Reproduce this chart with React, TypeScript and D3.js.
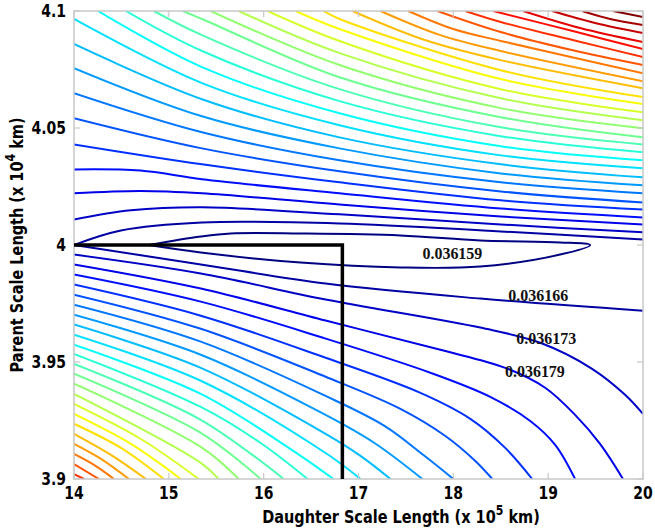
import React from 'react';
import * as d3 from 'd3';

// ---------- data ----------
const X_TICKS = [14, 15, 16, 17, 18, 19, 20];
const Y_TICKS = [3.9, 3.95, 4, 4.05, 4.1];
const Y_TICK_LABELS = ['3.9', '3.95', '4', '4.05', '4.1'];
const LEVEL_COUNT = 30; // contour levels 0..29

type Pt = [number, number];
type Line = [number, Pt[]];

// closed lowest-level contour (0.036159)
const LOOP_LINE: Line = [0, [
  [14.789, 4.0], [15.337, 4.0036], [15.653, 4.0049], [16.389, 4.0049], [17.442, 4.0041],
  [18.284, 4.0019], [19.126, 4.0011], [19.442, 4.0],
  [19.126, 3.9959], [18.284, 3.9908], [17.442, 3.9904], [16.389, 3.9925], [15.337, 3.9968], [14.789, 4.0],
]];

// contours above y = 4.0 (level index, points)
const UPPER_LINES: Line[] = [
  [1, [[14, 4.0], [14.495, 4.0062], [15.35, 4.0096], [16.8, 4.0092], [18.5, 4.0058], [20, 4.0024]]],
  [2, [[14, 4.0109], [14.6, 4.0148], [15.35, 4.0161], [16.8, 4.0131], [18.5, 4.0088], [20, 4.0054]]],
  [3, [[14, 4.0221], [14.7, 4.0231], [15.35, 4.0221], [16.8, 4.0173], [18.5, 4.0122], [20, 4.0088]]],
  [4, [[14, 4.0323], [14.7, 4.0318], [15.35, 4.0281], [16.8, 4.0221], [18.5, 4.0156], [20, 4.0118]]],
  [5, [[14, 4.043], [15.35, 4.0345], [16.8, 4.0268], [18.5, 4.0191], [20, 4.0152]]],
  [6, [[14, 4.0542], [15.35, 4.0413], [16.8, 4.0315], [18.5, 4.0229], [20, 4.0182]]],
  [7, [[14, 4.0649], [15.35, 4.0482], [16.8, 4.0362], [18.5, 4.0268], [20, 4.0221]]],
  [8, [[14, 4.0756], [15.35, 4.055], [16.8, 4.0413], [18.5, 4.0306], [20, 4.0255]]],
  [9, [[14, 4.0859], [15.35, 4.0623], [16.8, 4.046], [18.5, 4.0345], [20, 4.0289]]],
  [10, [[14, 4.0966], [15.35, 4.0692], [16.8, 4.0512], [18.5, 4.0383], [20, 4.0328]]],
  [11, [[14.253, 4.1], [15.35, 4.076], [16.8, 4.0563], [18.5, 4.0422], [20, 4.0362]]],
  [12, [[14.547, 4.1], [15.35, 4.0829], [16.8, 4.0615], [18.5, 4.0465], [20, 4.0396]]],
  [13, [[14.842, 4.1], [15.35, 4.0897], [16.8, 4.0666], [18.5, 4.0503], [20, 4.043]]],
  [14, [[15.147, 4.1], [15.35, 4.0966], [16.8, 4.0717], [18.5, 4.0546], [20, 4.046]]],
  [15, [[15.442, 4.1], [16.8, 4.0769], [18.5, 4.0585], [20, 4.0499]]],
  [16, [[15.737, 4.1], [16.8, 4.082], [18.5, 4.0627], [20, 4.0533]]],
  [17, [[16.042, 4.1], [16.8, 4.0872], [18.5, 4.0666], [20, 4.0567]]],
  [18, [[16.337, 4.1], [16.8, 4.0923], [18.5, 4.0709], [20, 4.0602]]],
  [19, [[16.632, 4.1], [16.8, 4.0966], [18.5, 4.0747], [20, 4.0632]]],
  [20, [[16.937, 4.1], [17.7, 4.0876], [18.5, 4.079], [20, 4.067]]],
  [21, [[17.232, 4.1], [17.863, 4.0897], [18.5, 4.0829], [20, 4.07]]],
  [22, [[17.526, 4.1], [18.0, 4.0923], [18.5, 4.0872], [20, 4.0734]]],
  [23, [[17.832, 4.1], [18.5, 4.091], [19.25, 4.0833], [20, 4.0769]]],
  [24, [[18.126, 4.1], [18.5, 4.0953], [19.3, 4.0872], [20, 4.0803]]],
  [25, [[18.421, 4.1], [19.3, 4.091], [20, 4.0837]]],
  [26, [[18.737, 4.1], [19.337, 4.0927], [20, 4.0867]]],
  [27, [[19.042, 4.1], [19.495, 4.0949], [20, 4.0906]]],
  [28, [[19.358, 4.1], [19.653, 4.0966], [20, 4.094]]],
  [29, [[19.684, 4.1], [20, 4.0974]]],
];

// contours below y = 4.0
const LOWER_LINES: Line[] = [
  [1, [[14, 4.0], [15.337, 3.9917], [16.653, 3.9835], [18.284, 3.9771], [20, 3.9719]]],
  [2, [[14, 3.9959], [15.337, 3.9878], [16.653, 3.9767], [18.284, 3.9647], [18.916, 3.9582], [19.463, 3.9471], [19.811, 3.936], [20, 3.9278]]],
  [3, [[14, 3.9917], [15.337, 3.9814], [16.653, 3.9677], [17.863, 3.9552], [18.547, 3.9475], [18.968, 3.939], [19.284, 3.9274], [19.547, 3.915], [19.789, 3.9]]],
  [4, [[14, 3.9874], [15.337, 3.9758], [16.653, 3.96], [17.758, 3.9454], [18.389, 3.9351], [18.811, 3.9248], [19.074, 3.9146], [19.284, 3.9]]],
  [5, [[14, 3.9831], [15.337, 3.9698], [16.653, 3.9518], [17.653, 3.9368], [18.179, 3.9257], [18.547, 3.9133], [18.832, 3.9]]],
  [6, [[14, 3.9788], [15.337, 3.9642], [16.653, 3.9437], [17.442, 3.93], [17.916, 3.9184], [18.232, 3.9077], [18.411, 3.9]]],
  [7, [[14, 3.9745], [15.337, 3.9587], [16.653, 3.9355], [17.274, 3.9227], [17.695, 3.9099], [18.0, 3.9]]],
  [8, [[14, 3.9702], [15.337, 3.9531], [16.653, 3.9274], [17.168, 3.9154], [17.674, 3.9]]],
  [9, [[14, 3.966], [15.337, 3.9475], [16.653, 3.9193], [17.021, 3.9099], [17.337, 3.9]]],
  [10, [[14, 3.9617], [15.337, 3.942], [16.653, 3.9111], [17.021, 3.9]]],
  [11, [[14, 3.9574], [15.337, 3.9364], [16.284, 3.9128], [16.737, 3.9]]],
  [12, [[14, 3.9535], [15.337, 3.9308], [15.968, 3.9154], [16.463, 3.9]]],
  [13, [[14, 3.9492], [15.337, 3.9253], [16.211, 3.9]]],
  [14, [[14, 3.945], [15.337, 3.9197], [15.968, 3.9]]],
  [15, [[14, 3.9407], [15.337, 3.9137], [15.737, 3.9]]],
  [16, [[14, 3.9364], [15.337, 3.9069], [15.526, 3.9]]],
  [17, [[14, 3.9321], [14.705, 3.9171], [15.316, 3.9]]],
  [18, [[14, 3.9278], [14.6, 3.915], [15.126, 3.9]]],
  [19, [[14, 3.9236], [14.495, 3.9133], [14.947, 3.9]]],
  [20, [[14, 3.9193], [14.389, 3.9103], [14.758, 3.9]]],
  [21, [[14, 3.915], [14.284, 3.9086], [14.579, 3.9]]],
  [22, [[14, 3.9107], [14.211, 3.906], [14.421, 3.9]]],
  [23, [[14, 3.9064], [14.263, 3.9]]],
  [24, [[14, 3.9021], [14.105, 3.9]]],
];

const LEVEL_LABELS = ['0.036159', '0.036166', '0.036173', '0.036179'];
const LABEL_X = [17.99, 18.895, 18.98, 18.86];
const LABEL_Y = [3.9966, 3.9788, 3.9604, 3.9463];

const MARKER_X = [14, 16.83, 16.83];
const MARKER_Y = [4.0, 4.0, 3.9];

// ---------- layout ----------
const W = 655, H = 529;
const M = { left: 74, top: 11, right: 12, bottom: 50 };
const PW = W - M.left - M.right;
const PH = H - M.top - M.bottom;

function jet(t: number): string {
  const c = (v: number) => Math.max(0, Math.min(1, v));
  const r = c(1.5 - Math.abs(4 * t - 3));
  const g = c(1.5 - Math.abs(4 * t - 2));
  const b = c(1.5 - Math.abs(4 * t - 1));
  return d3.rgb(r * 255, g * 255, b * 255).formatHex();
}

export default function App() {
  const x = d3.scaleLinear().domain([14, 20]).range([M.left, M.left + PW]);
  const y = d3.scaleLinear().domain([3.9, 4.1]).range([M.top + PH, M.top]);
  const line = d3.line<Pt>().x(d => x(d[0])).y(d => y(d[1])).curve(d3.curveCatmullRom.alpha(0.5));
  const colorOf = (k: number) => jet(k / (LEVEL_COUNT - 1));
  const all: Line[] = [LOOP_LINE, ...UPPER_LINES, ...LOWER_LINES];
  const marker = d3.line<number>().x(d => x(MARKER_X[d])).y(d => y(MARKER_Y[d]))(MARKER_X.map((_, i) => i)) || '';
  const axisColor = '#c8c8c8';
  const font = "'DejaVu Sans', sans-serif";
  const SY = 1.2; // vertical stretch of the reference's lettering

  return (
    <svg width={W} height={H} style={{ position: 'absolute', left: 0, top: 0, background: '#fff' }}>
      <defs>
        <clipPath id="plot">
          <rect x={M.left} y={M.top} width={PW} height={PH} />
        </clipPath>
      </defs>
      <rect x={0} y={0} width={W} height={H} fill="#fff" />
      <g clipPath="url(#plot)">
        {all.map(([k, pts], i) => (
          <path key={i} d={line(pts) || ''} fill="none" stroke={colorOf(k)} strokeWidth={2} strokeLinejoin="round" />
        ))}
      </g>
      <rect x={M.left} y={M.top} width={PW} height={PH} fill="none" stroke={axisColor} strokeWidth={1.5} />
      {X_TICKS.map(t => (
        <g key={'xt' + t}>
          <line x1={x(t)} x2={x(t)} y1={M.top + PH} y2={M.top + PH - 6} stroke={axisColor} strokeWidth={1.2} />
          <line x1={x(t)} x2={x(t)} y1={M.top} y2={M.top + 6} stroke={axisColor} strokeWidth={1.2} />
          <text transform={`translate(${x(t)},${M.top + PH + 20}) scale(1,${SY})`} textAnchor="middle" fontFamily={font} fontWeight="bold" fontSize={14} fill="#000">{t}</text>
        </g>
      ))}
      {Y_TICKS.map((t, i) => (
        <g key={'yt' + t}>
          <line x1={M.left} x2={M.left + 6} y1={y(t)} y2={y(t)} stroke={axisColor} strokeWidth={1.2} />
          <line x1={M.left + PW} x2={M.left + PW - 6} y1={y(t)} y2={y(t)} stroke={axisColor} strokeWidth={1.2} />
          <text transform={`translate(${M.left - 8},${y(t) + 6}) scale(1,${SY})`} textAnchor="end" fontFamily={font} fontWeight="bold" fontSize={14} fill="#000">{Y_TICK_LABELS[i]}</text>
        </g>
      ))}
      <path d={marker} fill="none" stroke="#000" strokeWidth={3.5} />
      {LEVEL_LABELS.map((s, i) => (
        <text key={s} transform={`translate(${x(LABEL_X[i])},${y(LABEL_Y[i]) + 6}) scale(1,1.1)`} textAnchor="middle" fontFamily="'Liberation Serif', serif" fontWeight="bold" fontSize={16} fill="#111">{s}</text>
      ))}
      <text transform={`translate(401,523) scale(1,${SY})`} textAnchor="middle" fontFamily={font} fontWeight="bold" fontSize={14.5} fill="#000">
        Daughter Scale Length (x 10<tspan dy={-7} fontSize={11}>5</tspan><tspan dy={7}> km)</tspan>
      </text>
      <text transform={`translate(23, ${M.top + PH / 2}) rotate(-90) scale(1,${SY})`} textAnchor="middle" fontFamily={font} fontWeight="bold" fontSize={14.5} fill="#000">
        Parent Scale Length (x 10<tspan dy={-7} fontSize={11}>4</tspan><tspan dy={7}> km)</tspan>
      </text>
    </svg>
  );
}
